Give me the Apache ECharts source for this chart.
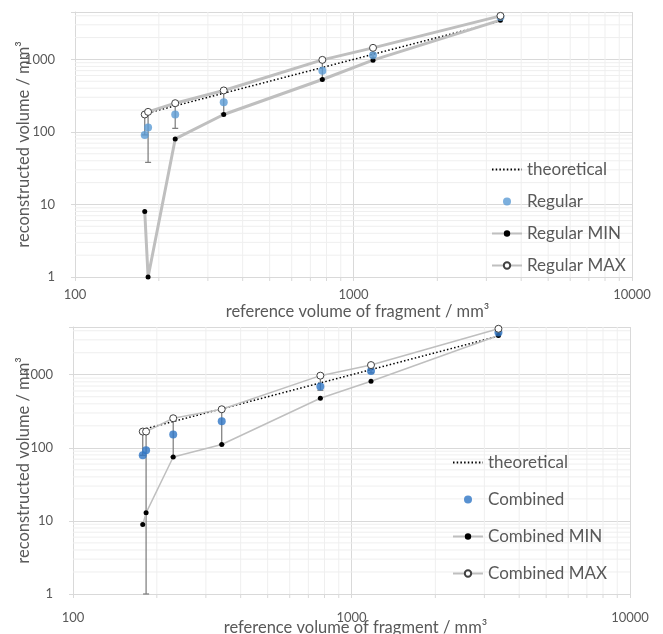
<!DOCTYPE html>
<html>
<head>
<meta charset="utf-8">
<script src="https://cdn.jsdelivr.net/npm/echarts@6/dist/echarts.min.js"></script>
<style>
html,body{margin:0;padding:0;background:#fff;}
#c{width:663px;height:634px;}
</style>
</head>
<body>
<div id="c"></div>
<script>
// ---- data ----
var refVolume = [178, 183, 229, 342, 773, 1175, 3370];
var theoretical = [178, 183, 229, 342, 773, 1175, 3370];

var regular = [91, 115, 174, 257, 695, 1142, 3850];
var regularMin = [8.0, 1.0, 80, 174, 528, 975, 3470];
var regularMax = [174, 189, 249, 373, 985, 1442, 3980];
var regularErrLow = [91, 38, 112, 180, 540, 1060, 3800];
var regularErrHigh = [174, 189, 249, 360, 960, 1230, 3900];

var combined = [79, 93, 152, 231, 688, 1122, 3786];
var combinedMin = [8.9, 12.9, 75, 111, 476, 813, 3446];
var combinedMax = [167, 167, 254, 337, 972, 1356, 4256];
var combinedErrLow = [79, 1, 75, 111, 612, 1060, 3700];
var combinedErrHigh = [167, 167, 254, 337, 972, 1200, 3880];

var xMinorTicks = [200, 300, 400, 500, 600, 700, 800, 900, 2000, 3000, 4000, 5000, 6000, 7000, 8000, 9000];
var yMinorTicks = [2, 3, 4, 5, 6, 7, 8, 9, 20, 30, 40, 50, 60, 70, 80, 90, 200, 300, 400, 500, 600, 700, 800, 900, 2000, 3000, 4000];

// ---- helpers ----
function pairs(xs, ys) { return xs.map(function (x, i) { return [x, ys[i]]; }); }
function triples(xs, lo, hi) { return xs.map(function (x, i) { return [x, lo[i], hi[i]]; }); }
function isPow10(v) { var l = Math.log10(v); return Math.abs(l - Math.round(l)) < 1e-6; }

var FONT = 'Lato';
var LABEL = '#595959';

function xAxisCfg(gi, labelMargin, nameGap) {
  return {
    type: 'log', logBase: 10, min: 100, max: 10000, gridIndex: gi,
    name: 'reference volume of fragment / mm³', nameLocation: 'middle', nameGap: nameGap,
    nameMoveOverlap: false,
    nameTextStyle: { fontFamily: FONT, fontSize: 16.5, color: LABEL, padding: [0, 0, 0, 8] },
    axisLine: { lineStyle: { color: '#d9d9d9', width: 1 } },
    axisTick: { show: true, inside: false, length: 4, lineStyle: { color: '#d9d9d9' } },
    axisLabel: { fontFamily: FONT, fontSize: 13, color: LABEL, margin: labelMargin,
      formatter: function (v) { return isPow10(v) ? String(Math.round(v)) : ''; } },
    splitLine: { show: true, lineStyle: { color: '#d9d9d9', width: 1 } },
    minorTick: { show: false }, minorSplitLine: { show: false }
  };
}
function yAxisCfg(gi, nameGap) {
  return {
    type: 'log', logBase: 10, min: 1, max: 4500, gridIndex: gi,
    name: 'reconstructed volume / mm³', nameLocation: 'middle', nameGap: nameGap,
    nameMoveOverlap: false,
    nameTextStyle: { fontFamily: FONT, fontSize: 16.5, color: LABEL },
    axisLine: { show: true, lineStyle: { color: '#d9d9d9', width: 1 } },
    axisTick: { show: true, inside: false, length: 4, lineStyle: { color: '#d9d9d9' } },
    axisLabel: { fontFamily: FONT, fontSize: 13, color: LABEL, margin: 20,
      formatter: function (v) { return isPow10(v) ? String(Math.round(v)) : ''; } },
    splitLine: { show: true, lineStyle: { color: '#d9d9d9', width: 1 } }
  };
}

function minorGridX(gi) {
  return {
    type: 'custom', xAxisIndex: gi, yAxisIndex: gi, silent: true, z: 1,
    data: xMinorTicks.map(function (v) { return [v, 1]; }),
    renderItem: function (params, api) {
      var cs = params.coordSys;
      var px = api.coord([api.value(0), 1])[0];
      return { type: 'group', children: [
        { type: 'line', shape: { x1: px, y1: cs.y, x2: px, y2: cs.y + cs.height }, style: { stroke: '#efefef', lineWidth: 1 } },
        { type: 'line', shape: { x1: px, y1: cs.y + cs.height, x2: px, y2: cs.y + cs.height + 4 }, style: { stroke: '#d9d9d9', lineWidth: 1 } }
      ] };
    }
  };
}
function minorGridY(gi) {
  return {
    type: 'custom', xAxisIndex: gi, yAxisIndex: gi, silent: true, z: 1,
    data: yMinorTicks.map(function (v) { return [100, v]; }),
    renderItem: function (params, api) {
      var cs = params.coordSys;
      var py = api.coord([100, api.value(1)])[1];
      return { type: 'line', shape: { x1: cs.x, y1: py, x2: cs.x + cs.width, y2: py }, style: { stroke: '#efefef', lineWidth: 1 } };
    }
  };
}
function errorBars(gi, data) {
  return {
    type: 'custom', xAxisIndex: gi, yAxisIndex: gi, silent: true, z: 3,
    encode: { x: 0, y: [1, 2] },
    data: data,
    renderItem: function (params, api) {
      var x = api.value(0);
      var p1 = api.coord([x, api.value(1)]);
      var p2 = api.coord([x, api.value(2)]);
      var st = { stroke: '#7f7f7f', lineWidth: 1.25 };
      return { type: 'group', children: [
        { type: 'line', shape: { x1: p1[0], y1: p1[1], x2: p2[0], y2: p2[1] }, style: st },
        { type: 'line', shape: { x1: p1[0] - 3, y1: p1[1], x2: p1[0] + 3, y2: p1[1] }, style: st },
        { type: 'line', shape: { x1: p2[0] - 3, y1: p2[1], x2: p2[0] + 3, y2: p2[1] }, style: st }
      ] };
    }
  };
}
function theoSeries(gi) {
  return {
    name: 'theoretical', type: 'line', xAxisIndex: gi, yAxisIndex: gi, z: 4,
    data: pairs(refVolume, theoretical), symbol: 'none',
    itemStyle: { color: '#000' },
    lineStyle: { color: '#000', width: 1.5, type: [1.5, 2.2] }
  };
}
function meanSeries(gi, name, ys, color) {
  return {
    name: name, type: 'scatter', xAxisIndex: gi, yAxisIndex: gi, z: 6,
    data: pairs(refVolume, ys), symbol: 'circle', symbolSize: 8,
    itemStyle: { color: color }
  };
}
function minSeries(gi, name, ys, w) {
  return {
    name: name, type: 'line', xAxisIndex: gi, yAxisIndex: gi, z: 5,
    data: pairs(refVolume, ys), symbol: 'circle', symbolSize: 5, showSymbol: true,
    lineStyle: { color: '#bfbfbf', width: w },
    itemStyle: { color: '#000', borderColor: '#000', borderWidth: 0 }
  };
}
function maxSeries(gi, name, ys, w) {
  return {
    name: name, type: 'line', xAxisIndex: gi, yAxisIndex: gi, z: 7,
    data: pairs(refVolume, ys), symbol: 'circle', symbolSize: 7, showSymbol: true,
    lineStyle: { color: '#bfbfbf', width: w },
    itemStyle: { color: '#fff', borderColor: '#404040', borderWidth: 1 }
  };
}
function legendCfg(left, top, gap, names) {
  return {
    orient: 'vertical', left: left, top: top, itemGap: gap, itemWidth: 30, itemHeight: 8,
    data: [{ name: names[0], itemStyle: { opacity: 0 } }, names[1], names[2], names[3]],
    selectedMode: false,
    textStyle: { fontFamily: FONT, fontSize: 17, color: LABEL }
  };
}

var chart = echarts.init(document.getElementById('c'), null, { renderer: 'canvas' });
chart.setOption({
  animation: false,
  backgroundColor: '#fff',
  grid: [
    { left: 75, right: 31, top: 12, height: 265, outerBoundsMode: 'none', containLabel: false },
    { left: 73, right: 33, top: 327, height: 267, outerBoundsMode: 'none', containLabel: false }
  ],
  xAxis: [xAxisCfg(0, 11, 26), xAxisCfg(1, 17, 25)],
  yAxis: [yAxisCfg(0, 43), yAxisCfg(1, 41)],
  legend: [
    legendCfg(486, 156, 15, ['theoretical', 'Regular', 'Regular MIN', 'Regular MAX']),
    legendCfg(447, 449, 20, ['theoretical', 'Combined', 'Combined MIN', 'Combined MAX'])
  ],
  series: [
    minorGridX(0), minorGridY(0), minorGridX(1), minorGridY(1),
    errorBars(0, triples(refVolume, regularErrLow, regularErrHigh)),
    errorBars(1, triples(refVolume, combinedErrLow, combinedErrHigh)),
    theoSeries(0),
    meanSeries(0, 'Regular', regular, '#5b9bd5'),
    minSeries(0, 'Regular MIN', regularMin, 3),
    maxSeries(0, 'Regular MAX', regularMax, 3),
    theoSeries(1),
    meanSeries(1, 'Combined', combined, '#2e75c6'),
    minSeries(1, 'Combined MIN', combinedMin, 1.5),
    maxSeries(1, 'Combined MAX', combinedMax, 1.5)
  ]
});
</script>
</body>
</html>
